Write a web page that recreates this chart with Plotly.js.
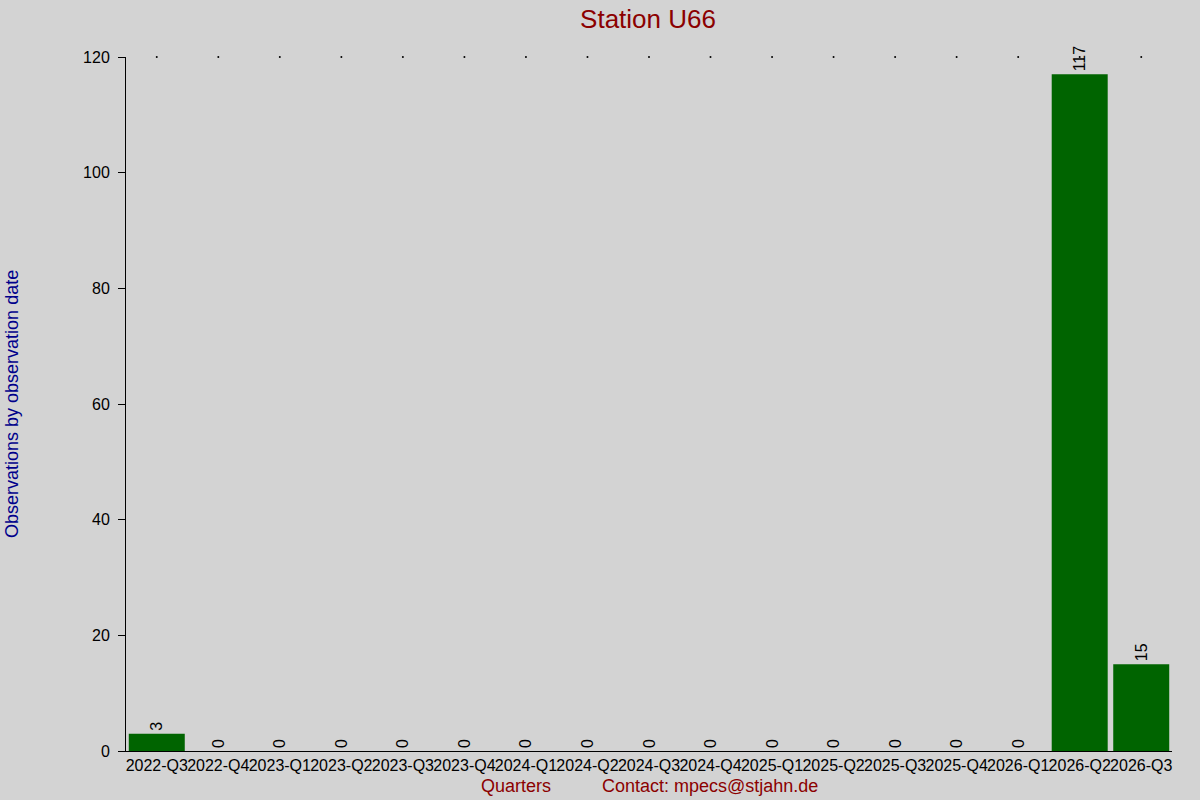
<!DOCTYPE html>
<html>
<head>
<meta charset="utf-8">
<script src="https://cdn.plot.ly/plotly-3.0.1.min.js"></script>
<style>
  body { margin: 0; background: #d3d3d3; }
  #plot { width: 1200px; height: 800px; }
</style>
</head>
<body>
<div id="plot"></div>
<script>
const quarters = ['2022-Q3', '2022-Q4', '2023-Q1', '2023-Q2', '2023-Q3', '2023-Q4',
	'2024-Q1', '2024-Q2', '2024-Q3', '2024-Q4', '2025-Q1', '2025-Q2',
	'2025-Q3', '2025-Q4', '2026-Q1', '2026-Q2', '2026-Q3'];
const observations = [3, 0, 0, 0, 0, 0, 0, 0, 0, 0, 0, 0, 0, 0, 0, 117, 15];
// tiny marker row along the top of the chart
const topDots = [120, 120, 120, 120, 120, 120, 120, 120, 120, 120, 120, 120, 120, 120, 120, 120, 120];

const font = 'Liberation Sans, Arial, sans-serif';

const bars = {
	type: 'bar',
	x: quarters,
	y: observations,
	text: observations.map(String),
	textposition: 'outside',
	textangle: -90,
	constraintext: 'none',
	textfont: {family: font, size: 16, color: 'black'},
	cliponaxis: false,
	marker: {color: '#006400'},
	hoverinfo: 'x+y'
};

const dots = {
	type: 'scatter',
	mode: 'markers',
	x: quarters,
	y: topDots,
	marker: {color: 'black', size: 2},
	cliponaxis: false,
	hoverinfo: 'skip'
};

const layout = {
	width: 1200,
	height: 800,
	paper_bgcolor: '#d3d3d3',
	plot_bgcolor: '#d3d3d3',
	showlegend: false,
	bargap: 0.09,
	margin: {l: 126, r: 28, t: 57, b: 49},
	font: {family: font, size: 16, color: 'black'},
	title: {
		text: 'Station U66',
		font: {family: font, size: 26, color: '#8b0000'},
		x: 0.54, xanchor: 'center',
		y: 0.977, yanchor: 'middle'
	},
	xaxis: {
		type: 'category',
		range: [-0.5, quarters.length - 0.5],
		showline: true,
		linecolor: 'black',
		linewidth: 1,
		ticks: '',
		showgrid: false,
		tickangle: 0,
		tickfont: {family: font, size: 16, color: 'black'}
	},
	yaxis: {
		range: [0, 120],
		tickvals: [0, 20, 40, 60, 80, 100, 120],
		showline: true,
		linecolor: 'black',
		linewidth: 1,
		ticks: 'outside',
		ticklen: 7,
		tickcolor: 'black',
		ticklabelstandoff: 5,
		showgrid: false,
		zeroline: false,
		tickfont: {family: font, size: 16, color: 'black'}
	},
	annotations: [
		{
			text: 'Observations by observation date',
			xref: 'paper', yref: 'paper',
			x: -0.109, y: 0.5,
			xanchor: 'center', yanchor: 'middle',
			textangle: -90, showarrow: false,
			font: {family: font, size: 18, color: '#00008b'}
		},
		{
			text: 'Quarters',
			xref: 'paper', yref: 'paper',
			x: 0.373, y: -0.0505,
			xanchor: 'center', yanchor: 'middle',
			showarrow: false,
			font: {family: font, size: 18, color: '#8b0000'}
		},
		{
			text: 'Contact: mpecs@stjahn.de',
			xref: 'paper', yref: 'paper',
			x: 0.558, y: -0.0505,
			xanchor: 'center', yanchor: 'middle',
			showarrow: false,
			font: {family: font, size: 18, color: '#8b0000'}
		}
	]
};

Plotly.newPlot('plot', [bars, dots], layout, {displayModeBar: false, staticPlot: true});
</script>
</body>
</html>
